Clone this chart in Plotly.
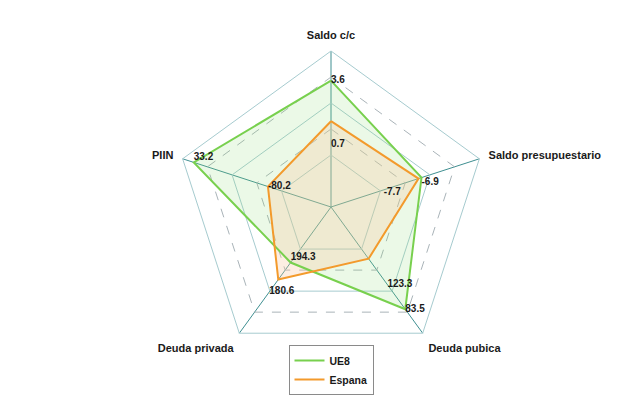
import plotly.graph_objects as go

categories = ["Saldo c/c", "Saldo presupuestario", "Deuda pubica", "Deuda privada", "PIIN"]
ue8_r = [0.81, 0.61, 0.81, 0.44, 0.925]
esp_r = [0.55, 0.59, 0.41, 0.575, 0.425]
ue8_labels = ["3.6", "-6.9", "83.5", "194.3", "33.2"]
esp_labels = ["0.7", "-7.7", "123.3", "180.6", "-80.2"]
solid_rings = [1 / 3, 2 / 3, 1.0]
dashed_rings = [0.5, 0.833]

GREEN = "#78D04E"
ORANGE = "#F39A2C"
FONT = "Liberation Sans"
LABEL_FONT = dict(family=FONT, size=10, color="#1a1a1a", weight="bold")

# label placement (style only): radial shift factors and anchors
ue8_pos = ["middle right", "bottom right", "middle right", "top right", "top right"]
esp_shift = [0.73, 0.70, 1.5, 1.17, 1.0]
esp_pos = ["middle right", "bottom center", "middle right", "middle right", "middle right"]


def closed(seq):
    return list(seq) + [seq[0]]


fig = go.Figure()

for lvl in dashed_rings:
    fig.add_trace(go.Scatterpolar(
        r=closed([lvl] * len(categories)), theta=closed(categories),
        mode="lines", line=dict(color="#A9B3B8", width=1, dash="dash"),
        showlegend=False, hoverinfo="skip"))

# filled areas
fig.add_trace(go.Scatterpolar(
    r=closed(ue8_r), theta=closed(categories), mode="lines",
    line=dict(width=0, color=GREEN), fill="toself",
    fillcolor="rgba(144,220,120,0.18)", showlegend=False, hoverinfo="skip"))
fig.add_trace(go.Scatterpolar(
    r=closed(esp_r), theta=closed(categories), mode="lines",
    line=dict(width=0, color=ORANGE), fill="toself",
    fillcolor="rgba(250,198,158,0.30)", showlegend=False, hoverinfo="skip"))

# outlines (legend entries)
fig.add_trace(go.Scatterpolar(
    r=closed(ue8_r), theta=closed(categories), name="UE8",
    mode="lines", line=dict(color=GREEN, width=2)))
fig.add_trace(go.Scatterpolar(
    r=closed(esp_r), theta=closed(categories), name="Espana",
    mode="lines", line=dict(color=ORANGE, width=2)))

fig.add_trace(go.Scatterpolar(
    r=ue8_r, theta=categories, mode="text", text=ue8_labels,
    textposition=ue8_pos, textfont=LABEL_FONT,
    showlegend=False, hoverinfo="skip"))

fig.add_trace(go.Scatterpolar(
    r=[v * f for v, f in zip(esp_r, esp_shift)], theta=categories,
    mode="text", text=esp_labels, textposition=esp_pos, textfont=LABEL_FONT,
    showlegend=False, hoverinfo="skip"))

cx, cy, R = 331, 207, 156
W, H = 632, 417

fig.update_layout(
    width=W, height=H,
    margin=dict(l=0, r=0, t=0, b=0),
    paper_bgcolor="white",
    plot_bgcolor="white",
    font=dict(family=FONT, color="#1a1a1a"),
    polar=dict(
        domain=dict(x=[(cx - R) / W, (cx + R) / W],
                    y=[(H - cy - R) / H, (H - cy + R) / H]),
        bgcolor="white",
        gridshape="linear",
        radialaxis=dict(range=[0, 1], tickvals=solid_rings, showticklabels=False,
                        ticks="", showline=False, gridcolor="#A6CBCF", gridwidth=1),
        angularaxis=dict(direction="clockwise", rotation=90,
                         gridcolor="#3F8F91", gridwidth=1.4,
                         linecolor="#A6CBCF", linewidth=1,
                         ticks="outside", ticklen=7, tickcolor="rgba(0,0,0,0)",
                         tickfont=dict(family=FONT, size=11, color="#1a1a1a", weight="bold")),
    ),
    legend=dict(x=cx / W, y=(H - 345) / H, xanchor="center", yanchor="top",
                bordercolor="#8a8a8a", borderwidth=1, bgcolor="white",
                font=dict(family=FONT, size=10.5, color="#1a1a1a", weight="bold"),
                tracegroupgap=0, itemwidth=30),
)

fig.write_html("out.html")
